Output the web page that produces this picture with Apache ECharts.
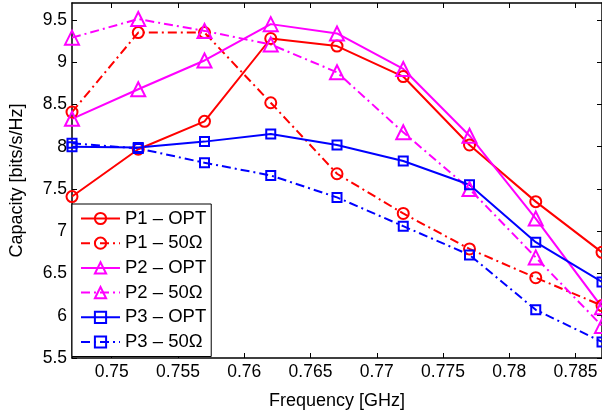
<!DOCTYPE html>
<html>
<head>
<meta charset="utf-8">
<script src="https://cdn.jsdelivr.net/npm/echarts@6/dist/echarts.min.js"></script>
<style>
html,body{margin:0;padding:0;background:#fff;}
#chart{width:602px;height:415px;}
</style>
</head>
<body>
<div id="chart"></div>
<script>
// Frequencies (GHz)
var freq = [0.747, 0.752, 0.757, 0.762, 0.767, 0.772, 0.777, 0.782, 0.787];
// Capacity values [bits/s/Hz]
var p1Opt  = [7.41, 7.97, 8.30, 9.28, 9.19, 8.83, 8.02, 7.35, 6.75];
var p1_50  = [8.41, 9.35, 9.35, 8.52, 7.68, 7.21, 6.79, 6.45, 6.12];
var p2Opt  = [8.33, 8.68, 9.02, 9.45, 9.34, 8.92, 8.13, 7.15, 6.10];
var p2_50  = [9.29, 9.51, 9.37, 9.21, 8.88, 8.17, 7.50, 6.69, 5.88];
var p3Opt  = [8.00, 7.99, 8.06, 8.15, 8.02, 7.83, 7.55, 6.87, 6.40];
var p3_50  = [8.04, 7.98, 7.81, 7.66, 7.40, 7.06, 6.72, 6.07, 5.69];
var seriesNames = ['P1 \u2013 OPT', 'P1 \u2013 50\u03A9', 'P2 \u2013 OPT', 'P2 \u2013 50\u03A9', 'P3 \u2013 OPT', 'P3 \u2013 50\u03A9'];
var xTicks = [0.75, 0.755, 0.76, 0.765, 0.77, 0.775, 0.78, 0.785];
var yTicks = [5.5, 6, 6.5, 7, 7.5, 8, 8.5, 9, 9.5];

var FONT = '"Liberation Sans", Arial, Helvetica, sans-serif';
var dashDot = [9, 4, 2, 4];

function pairs(vals) {
  return freq.map(function (f, i) { return [f, vals[i]]; });
}
function mk(name, vals, color, symbol, size, dashed) {
  return {
    name: name,
    type: 'line',
    data: pairs(vals),
    symbol: symbol,
    symbolSize: size,
    showSymbol: true,
    clip: false,
    lineStyle: { color: color, width: 2, type: dashed ? dashDot : 'solid' },
    itemStyle: { color: 'none', borderColor: color, borderWidth: 2 },
    emphasis: { disabled: true }
  };
}

var chart = echarts.init(document.getElementById('chart'), null, { renderer: 'canvas' });
var axisLine = { show: true, onZero: false, lineStyle: { color: '#000', width: 1.5 } };
var tickStyle = { color: '#000', width: 1 };
chart.setOption({
  animation: false,
  backgroundColor: '#fff',
  textStyle: { fontFamily: FONT },
  grid: { left: 63, top: 3, width: 541, height: 361, containLabel: false },
  legend: {
    orient: 'vertical',
    left: 72,
    top: 204,
    padding: [5, 5, 5, 8],
    itemWidth: 39,
    itemHeight: 14,
    itemGap: 5.7,
    backgroundColor: '#fff',
    borderColor: '#000',
    borderWidth: 1,
    borderRadius: 0,
    textStyle: { fontFamily: FONT, fontSize: 18.5, color: '#000', lineHeight: 19 },
    data: seriesNames
  },
  xAxis: [{
    type: 'value',
    min: 0.747, max: 0.787,
    position: 'bottom',
    axisLine: axisLine,
    axisTick: { show: true, inside: true, length: 5, lineStyle: tickStyle, customValues: xTicks },
    axisLabel: { show: true, customValues: xTicks, margin: 5, fontSize: 17.5, color: '#000', fontFamily: FONT },
    splitLine: { show: false },
    name: 'Frequency [GHz]',
    nameLocation: 'middle',
    nameGap: 34,
    nameTextStyle: { fontSize: 18, color: '#000', fontFamily: FONT }
  }, {
    type: 'value',
    min: 0.747, max: 0.787,
    position: 'top',
    axisLine: axisLine,
    axisTick: { show: true, inside: true, length: 5, lineStyle: tickStyle, customValues: xTicks },
    axisLabel: { show: false },
    splitLine: { show: false }
  }],
  yAxis: [{
    type: 'value',
    min: 5.5, max: 9.7,
    position: 'left',
    axisLine: axisLine,
    axisTick: { show: true, inside: true, length: 5, lineStyle: tickStyle, customValues: yTicks },
    axisLabel: { show: true, customValues: yTicks, margin: 5, fontSize: 17.5, color: '#000', fontFamily: FONT },
    splitLine: { show: false },
    name: 'Capacity [bits/s/Hz]',
    nameLocation: 'middle',
    nameGap: 46,
    nameRotate: 90,
    nameTextStyle: { fontSize: 18, color: '#000', fontFamily: FONT }
  }, {
    type: 'value',
    min: 5.5, max: 9.7,
    position: 'right',
    axisLine: axisLine,
    axisTick: { show: true, inside: true, length: 5, lineStyle: tickStyle, customValues: yTicks },
    axisLabel: { show: false },
    splitLine: { show: false }
  }],
  series: [
    mk(seriesNames[0], p1Opt, '#ff0000', 'circle', 11, false),
    mk(seriesNames[1], p1_50, '#ff0000', 'circle', 11, true),
    mk(seriesNames[2], p2Opt, '#ff00ff', 'triangle', 14, false),
    mk(seriesNames[3], p2_50, '#ff00ff', 'triangle', 14, true),
    mk(seriesNames[4], p3Opt, '#0000ff', 'rect', 9, false),
    mk(seriesNames[5], p3_50, '#0000ff', 'rect', 9, true)
  ]
});
</script>
</body>
</html>
